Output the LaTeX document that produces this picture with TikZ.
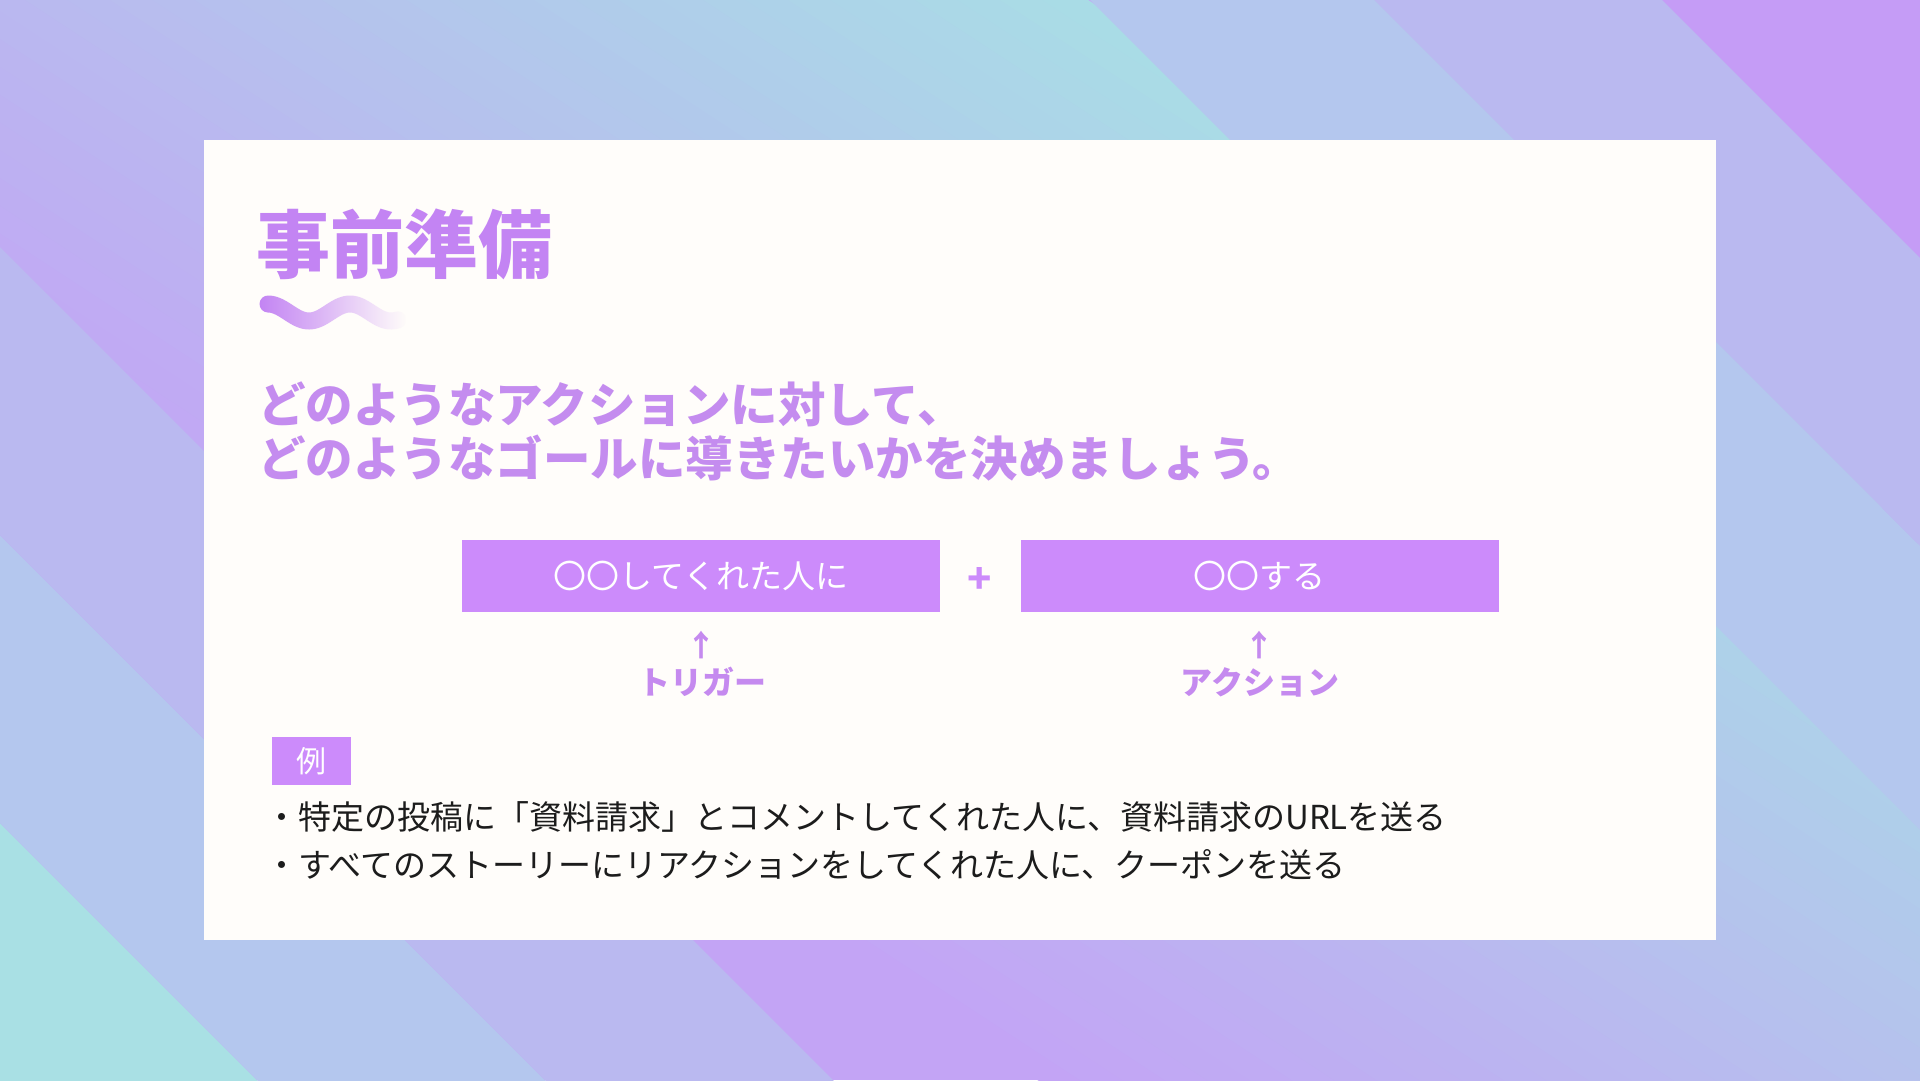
\documentclass[tikz,border=0pt]{standalone}
\usepackage{fontspec}
\usepackage{xcolor}
\usepackage{tikz}
\usetikzlibrary{positioning,fadings}

\newfontfamily\jp{Noto Sans CJK JP}

\definecolor{bandpurple}{HTML}{C3A4F5}
\definecolor{bandcyan}{HTML}{A9DCE6}
\definecolor{bgcyan}{HTML}{A9E0E4}
\definecolor{bgblue}{HTML}{B4C7EE}
\definecolor{bglav}{HTML}{BAB9F0}
\definecolor{bgviolet}{HTML}{C59CF6}
\definecolor{cardwhite}{HTML}{FFFDFA}
\definecolor{titlepurple}{HTML}{C384F3}
\definecolor{leadpurple}{HTML}{C48CEF}
\definecolor{boxpurple}{HTML}{CC8BFB}
\definecolor{labelpurple}{HTML}{C58AEF}
\definecolor{inkblack}{HTML}{1C1C1C}

\tikzfading[name=wavefade, left color=transparent!0, right color=transparent!100]

\tikzset{
    card/.style={fill=cardwhite, minimum width=1512pt, minimum height=800pt, inner sep=0pt},
    titletext/.style={anchor=west, inner sep=0pt, text=titlepurple, font=\jp\bfseries\fontsize{74}{80}\selectfont},
    wavestroke/.style={draw=titlepurple, line width=17pt, line cap=round, path fading=wavefade},
    leadtext/.style={anchor=west, inner sep=0pt, text=leadpurple, font=\jp\bfseries\fontsize{47.5}{52}\selectfont},
    formbox/.style={fill=boxpurple, minimum width=478pt, minimum height=72pt, inner sep=0pt, text=white, font=\jp\fontsize{33}{36}\selectfont},
    plussign/.style={inner sep=0pt, text=boxpurple, font=\jp\bfseries\fontsize{40}{44}\selectfont},
    pointer/.style={inner sep=0pt, text=labelpurple, font=\jp\bfseries\fontsize{30}{32}\selectfont},
    rolelabel/.style={inner sep=0pt, text=labelpurple, font=\jp\bfseries\fontsize{32}{36}\selectfont},
    exbox/.style={fill=boxpurple, minimum width=79pt, minimum height=48pt, inner sep=0pt, text=white, font=\jp\fontsize{30}{32}\selectfont},
    itemtext/.style={anchor=west, inner sep=0pt, text=inkblack, font=\jp\fontsize{33}{36}\selectfont}
}

\begin{document}
\begin{tikzpicture}[x=1pt, y=-1pt]
    \useasboundingbox (0,0) rectangle (1920,1080);

    % diagonal stripes over a soft gradient
    \begin{scope}
        \clip (0,0) rectangle (1920,1080);
        \fill[bandpurple] (0,0) rectangle (1920,1080);
        \foreach \i in {0,...,39}{
            \pgfmathsetmacro{\va}{-360+\i*25}
            \pgfmathtruncatemacro{\mixp}{100-\i*100/39}
            \fill[bandpurple!\mixp!bandcyan] ({(\va-54)/0.59},-60) -- ({(\va-27)/0.59},-60) -- ({(\va+1053)/0.59},1140) -- ({(\va+1026)/0.59},1140) -- cycle;
        }
        \fill[bandcyan] ({611/0.59},-60) -- (6000,-60) -- (6000,1140) -- ({1666/0.59},1140) -- cycle;
        \foreach \ua/\ub/\col in {-1900/-823/bgcyan, -823/-535/bgblue, -535/-247/bglav, 1090/1374/bgblue, 1374/1662/bglav, 1662/3000/bgviolet}
            \fill[\col] (\ua-60,-60) -- (\ub-60,-60) -- (\ub+1140,1140) -- (\ua+1140,1140) -- cycle;
    \end{scope}

    \node[card] (card) at (960,540) {};

    \node[titletext] (title) at (256,244) {事前準備};
    \draw[wavestroke] plot[domain=268:398, samples=80, smooth] (\x, {312.5-8.5*cos((\x-268)*4.39)});

    \node[leadtext] (lead1) at (258,404) {どのようなアクションに対して、};
    \node[leadtext] (lead2) at (258,458) {どのようなゴールに導きたいかを決めましょう。};

    \node[formbox] (trigbox) at (701,576) {〇〇してくれた人に};
    \node[formbox] (actbox) at (1259.5,576) {〇〇する};
    \node[plussign] (plus) at (980,580) {+};

    \node[pointer] (trigup) at (701,645) {↑};
    \node[pointer] (actup) at (1259,645) {↑};
    \node[rolelabel] (trig) at (702,682) {トリガー};
    \node[rolelabel] (act) at (1260,682) {アクション};

    \node[exbox] (ex) at (311.5,761) {例};
    \node[itemtext] (item1) at (265,817) {・特定の投稿に「資料請求」とコメントしてくれた人に、資料請求のURLを送る};
    \node[itemtext] (item2) at (265,865) {・すべてのストーリーにリアクションをしてくれた人に、クーポンを送る};
\end{tikzpicture}
\end{document}
